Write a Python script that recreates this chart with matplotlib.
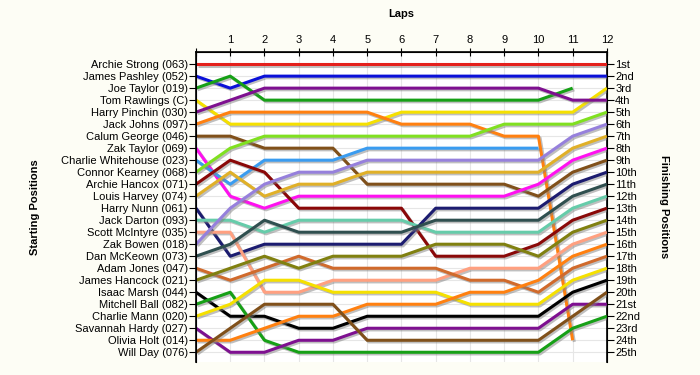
import matplotlib
matplotlib.use("Agg")
import matplotlib.pyplot as plt
import matplotlib.patheffects as pe

plt.rcParams['font.family'] = ['Liberation Sans', 'DejaVu Sans']

# -----------------------------
# DATA
# -----------------------------
drivers = [
    "Archie Strong (063)", "James Pashley (052)", "Joe Taylor (019)",
    "Tom Rawlings (C)", "Harry Pinchin (030)", "Jack Johns (097)",
    "Calum George (046)", "Zak Taylor (069)", "Charlie Whitehouse (023)",
    "Connor Kearney (068)", "Archie Hancox (071)", "Louis Harvey (074)",
    "Harry Nunn (061)", "Jack Darton (093)", "Scott McIntyre (035)",
    "Zak Bowen (018)", "Dan McKeown (073)", "Adam Jones (047)",
    "James Hancock (021)", "Isaac Marsh (044)", "Mitchell Ball (082)",
    "Charlie Mann (020)", "Savannah Hardy (027)", "Olivia Holt (014)",
    "Will Day (076)",
]

# position at lap 0..12 (shorter list = retired)
positions = [
    [1, 1, 1, 1, 1, 1, 1, 1, 1, 1, 1, 1, 1],
    [2, 3, 2, 2, 2, 2, 2, 2, 2, 2, 2, 2, 2],
    [3, 2, 4, 4, 4, 4, 4, 4, 4, 4, 4, 3],
    [4, 6, 6, 6, 6, 6, 5, 5, 5, 5, 5, 5, 3],
    [5, 4, 3, 3, 3, 3, 3, 3, 3, 3, 3, 4, 4],
    [6, 5, 5, 5, 5, 5, 6, 6, 6, 7, 7, 24],
    [7, 7, 8, 8, 8, 11, 11, 11, 11, 11, 12, 10, 9],
    [8, 12, 13, 12, 12, 12, 12, 12, 12, 12, 11, 9, 8],
    [9, 11, 9, 9, 9, 8, 8, 8, 8, 8, 8],
    [10, 8, 7, 7, 7, 7, 7, 7, 7, 6, 6, 6, 5],
    [11, 9, 10, 13, 13, 13, 13, 17, 17, 17, 16, 14, 13],
    [12, 10, 12, 11, 11, 10, 10, 10, 10, 10, 10, 8, 7],
    [13, 17, 16, 16, 16, 16, 16, 13, 13, 13, 13, 11, 10],
    [14, 14, 15, 14, 14, 14, 14, 15, 15, 15, 15, 13, 12],
    [15, 15, 20, 20, 19, 19, 19, 19, 18, 18, 18, 16, 15],
    [16, 13, 11, 10, 10, 9, 9, 9, 9, 9, 9, 7, 6],
    [17, 16, 14, 15, 15, 15, 15, 14, 14, 14, 14, 12, 11],
    [18, 19, 18, 17, 18, 18, 18, 18, 19, 19, 20, 18, 17],
    [19, 18, 17, 18, 17, 17, 17, 16, 16, 16, 17, 15, 14],
    [20, 22, 22, 23, 23, 22, 22, 22, 22, 22, 22, 20, 19],
    [21, 20, 24, 25, 25, 25, 25, 25, 25, 25, 25, 23, 22],
    [22, 21, 19, 19, 20, 20, 20, 20, 21, 21, 21, 19, 18],
    [23, 25, 25, 24, 24, 23, 23, 23, 23, 23, 23, 21, 21],
    [24, 24, 23, 22, 22, 21, 21, 21, 20, 20, 19, 17, 16],
    [25, 23, 21, 21, 21, 24, 24, 24, 24, 24, 24, 22, 20],
]

colors = [
    "#E4201C", "#0A10D8", "#16A016", "#F5E000", "#7E1090",
    "#FF8010", "#80501A", "#FF10F0", "#3A9CF0", "#80E020",
    "#8A0808", "#E0B028", "#1C1C70", "#66CCAA", "#FFA080",
    "#9680DC", "#2F4F4F", "#D06A2C", "#808010", "#000000",
    "#16A016", "#F5E000", "#7E1090", "#FF8010", "#80501A",
]

laps = list(range(13))
finish_labels = [
    "1st", "2nd", "3rd", "4th", "5th", "6th", "7th", "8th", "9th", "10th",
    "11th", "12th", "13th", "14th", "15th", "16th", "17th", "18th", "19th",
    "20th", "21st", "22nd", "23rd", "24th", "25th",
]

# -----------------------------
# PLOT
# -----------------------------
fig = plt.figure(figsize=(7, 3.75), dpi=100, facecolor="#FDFDF5")
ax = fig.add_axes([0.28, 0.035, 0.587, 0.826])
ax.set_facecolor("white")

shadow = [pe.SimpleLineShadow(offset=(1.2, -1.2), shadow_color="gray", alpha=0.5),
          pe.Normal()]

for pos, col in zip(positions, colors):
    ax.plot(laps[:len(pos)], pos, color=col, lw=2.2, zorder=3,
            path_effects=shadow, solid_capstyle="butt")

ax.set_xlim(0, 12)
ax.set_ylim(25.8, 0)

ax.xaxis.tick_top()
ax.xaxis.set_label_position("top")
ax.set_xticks(laps)
ax.set_xticklabels([""] + [str(l) for l in laps[1:]], fontsize=8)
ax.set_xlabel("Laps", fontsize=8, fontweight="bold", labelpad=13)
ax.tick_params(axis="x", direction="inout", length=6, pad=2)

ax.set_yticks(range(1, 26))
ax.set_yticklabels(drivers, fontsize=8)
ax.tick_params(axis="y", direction="out", length=5, pad=1)
ax.set_ylabel("Starting Positions", fontsize=8, fontweight="bold", labelpad=15)

ax.grid(True, color="#E6E6E6", lw=0.8, zorder=0)
ax.spines["bottom"].set_visible(False)
for s in ["left", "right", "top"]:
    ax.spines[s].set_linewidth(1.2)

ax2 = ax.twinx()
ax2.set_ylim(25.8, 0)
ax2.set_yticks(range(1, 26))
ax2.set_yticklabels(finish_labels, fontsize=8)
ax2.tick_params(axis="y", direction="out", length=5, pad=1)
ax2.set_ylabel("Finishing Positions", fontsize=8, fontweight="bold",
               rotation=-90, labelpad=21)
ax2.spines["bottom"].set_visible(False)

fig.savefig("out.png", dpi=100, facecolor=fig.get_facecolor())
